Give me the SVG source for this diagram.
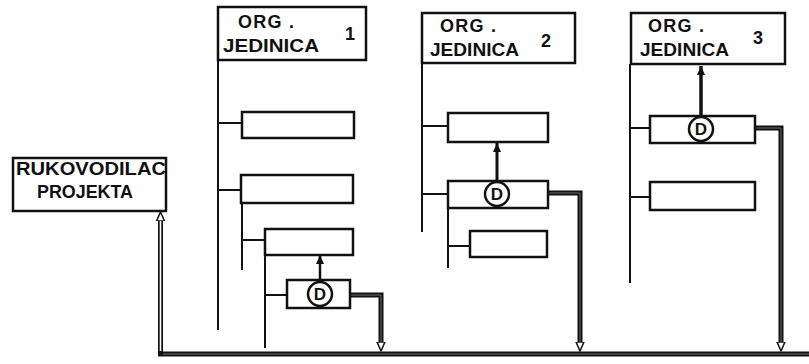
<svg xmlns="http://www.w3.org/2000/svg" width="809" height="364" viewBox="0 0 809 364">
<style>
.box{fill:#fff;stroke:#111;stroke-width:2.5}
.ln{fill:none;stroke:#111;stroke-width:2}
.pipe{fill:none;stroke:#111;stroke-width:5}
.core{fill:none;stroke:#777;stroke-width:0.9}
.up{fill:none;stroke:#111}
.t{font-family:"Liberation Sans","DejaVu Sans",sans-serif;font-size:18px;font-weight:bold;fill:#111}
.d{font-family:"Liberation Sans","DejaVu Sans",sans-serif;font-size:17px;font-weight:bold;fill:#111;text-anchor:middle}
.c{fill:#fff;stroke:#111;stroke-width:2.5}
</style>
<defs>
<marker id="hollow" viewBox="0 -5 11 10" refX="0" refY="0" markerWidth="11" markerHeight="10" markerUnits="userSpaceOnUse" orient="auto-start-reverse">
<path d="M0,-4 L9,0 L0,4 Z" fill="#fff" stroke="#111" stroke-width="1.5"/>
</marker>
<marker id="solid" viewBox="0 -5 10 10" refX="9" refY="0" markerWidth="10" markerHeight="10" markerUnits="userSpaceOnUse" orient="auto">
<path d="M0,-4 L9,0 L0,4 Z" fill="#111"/>
</marker>
</defs>

<g id="connectors">
  <!-- org 1 tree -->
  <path class="ln" d="M218,60 V330 M218,123 H242 M218,190 H241 M242,203 V270 M242,240 H265 M265,255 V348 M265,295 H287"/>
  <!-- org 2 tree -->
  <path class="ln" d="M422,63 V232 M422,126 H448 M422,194 H448 M448,208 V268 M448,246 H470"/>
  <!-- org 3 tree -->
  <path class="ln" d="M630,64 V283 M630,128 H650 M630,197 H650"/>
  <!-- D to superior -->
  <path class="up" stroke-width="2.5" d="M320,282 V255" marker-end="url(#solid)"/>
  <path class="up" stroke-width="3" d="M497,181 V143" marker-end="url(#solid)"/>
  <path class="up" stroke-width="3.5" d="M701,116 V66" marker-end="url(#solid)"/>
  <!-- D flows to bus -->
  <path class="pipe" d="M333,295 H381 V342" marker-end="url(#hollow)"/>
  <path class="core" d="M333,295 H381 V342"/>
  <path class="pipe" d="M509,193 H580 V342" marker-end="url(#hollow)"/>
  <path class="core" d="M509,193 H580 V342"/>
  <path class="pipe" d="M712,128 H781 V342" marker-end="url(#hollow)"/>
  <path class="core" d="M712,128 H781 V342"/>
  <!-- bus to project manager -->
  <path class="pipe" d="M160.5,221 V354 H809" marker-start="url(#hollow)"/>
  <path fill="none" stroke="#fff" stroke-width="1.6" d="M160.5,221 V351"/>
  <path class="core" d="M163,354 H809"/>
</g>

<g id="rukovodilac">
  <rect class="box" x="13" y="158" width="153" height="53"/>
  <text class="t" x="16" y="175" font-size="16" textLength="150" lengthAdjust="spacingAndGlyphs">RUKOVODILAC</text>
  <text class="t" x="37" y="198" font-size="16" textLength="96" lengthAdjust="spacingAndGlyphs">PROJEKTA</text>
</g>

<g id="org1">
  <rect class="box" x="218" y="7" width="148" height="53"/>
  <text class="t" x="238" y="28" textLength="56">ORG .</text>
  <text class="t" x="223" y="52" textLength="96" lengthAdjust="spacingAndGlyphs">JEDINICA</text>
  <text class="t" x="345" y="40">1</text>
</g>
<g id="org1-a"><rect class="box" x="242" y="112" width="112" height="26"/></g>
<g id="org1-b"><rect class="box" x="241" y="175" width="112" height="28"/></g>
<g id="org1-c"><rect class="box" x="265" y="229" width="88" height="26"/></g>
<g id="org1-d">
  <rect class="box" x="287" y="280" width="63" height="28"/>
  <circle class="c" cx="320" cy="294" r="12"/>
  <text class="d" x="320" y="300">D</text>
</g>

<g id="org2">
  <rect class="box" x="422" y="13" width="153" height="50"/>
  <text class="t" x="440" y="32" textLength="56">ORG .</text>
  <text class="t" x="430" y="56" textLength="89" lengthAdjust="spacingAndGlyphs">JEDINICA</text>
  <text class="t" x="541" y="47">2</text>
</g>
<g id="org2-a"><rect class="box" x="448" y="113" width="100" height="29"/></g>
<g id="org2-b">
  <rect class="box" x="448" y="181" width="100" height="27"/>
  <circle class="c" cx="497" cy="194" r="12"/>
  <text class="d" x="497" y="200">D</text>
</g>
<g id="org2-c"><rect class="box" x="470" y="231" width="77" height="26"/></g>

<g id="org3">
  <rect class="box" x="631" y="13" width="154" height="51"/>
  <text class="t" x="648" y="32" textLength="56">ORG .</text>
  <text class="t" x="640" y="56" textLength="89" lengthAdjust="spacingAndGlyphs">JEDINICA</text>
  <text class="t" x="753" y="44">3</text>
</g>
<g id="org3-a">
  <rect class="box" x="650" y="116" width="105" height="27"/>
  <circle class="c" cx="701" cy="129" r="12"/>
  <text class="d" x="701" y="135">D</text>
</g>
<g id="org3-b"><rect class="box" x="650" y="182" width="105" height="28"/></g>
</svg>
